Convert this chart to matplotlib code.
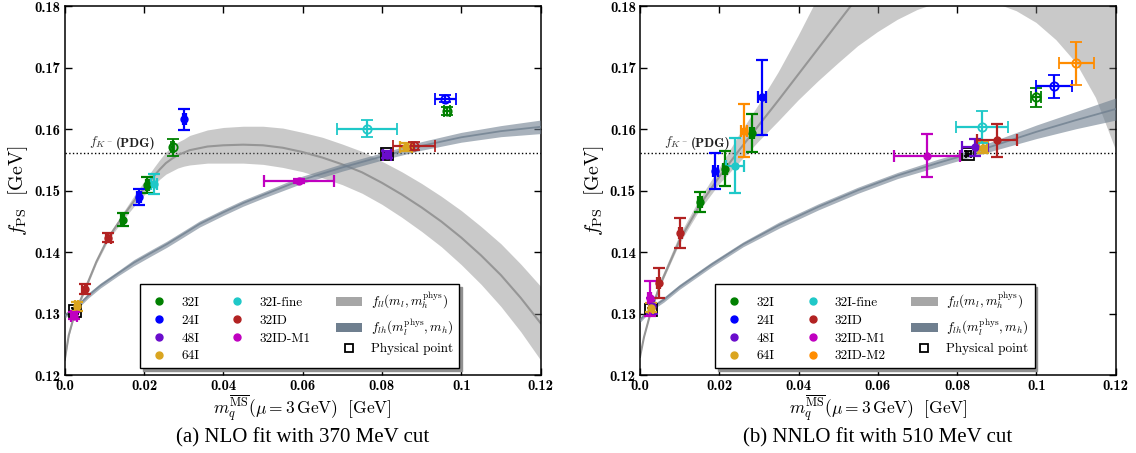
import numpy as np
import matplotlib
matplotlib.use("Agg")
import matplotlib.pyplot as plt
from matplotlib.lines import Line2D
from matplotlib.patches import Patch

plt.rcParams["mathtext.fontset"] = "cm"
plt.rcParams["axes.unicode_minus"] = False
CM = ["cmr10", "DejaVu Serif"]
CMB = ["cmb10", "DejaVu Serif"]

# ensemble colours
ens_names_nlo = ["32I", "24I", "48I", "64I", "32I-fine", "32ID", "32ID-M1"]
ens_names_nnlo = ["32I", "24I", "48I", "64I", "32I-fine", "32ID", "32ID-M1", "32ID-M2"]
ens_colors = {"32I": "#008000", "24I": "#0000ff", "48I": "#6a0dcc", "64I": "#daa520",
              "32I-fine": "#1fc8c8", "32ID": "#b22222", "32ID-M1": "#c000c0",
              "32ID-M2": "#ff8c00"}

# ---- (a) NLO fit: lattice points ----
nlo_ens = ["32I", "32I", "32I", "32I", "24I", "24I", "24I", "48I", "64I", "64I",
           "32I-fine", "32I-fine", "32ID", "32ID", "32ID", "32ID-M1", "32ID-M1"]
nlo_x = [0.0146, 0.0208, 0.0272, 0.0964, 0.0187, 0.0302, 0.0960, 0.0812, 0.0030, 0.0861,
         0.0225, 0.0762, 0.0050, 0.0110, 0.0881, 0.0024, 0.0590]
nlo_xerr = [0.0004, 0.0004, 0.0004, 0.0008, 0.0005, 0.0005, 0.0026, 0.0010, 0.0004, 0.0015,
            0.0007, 0.0076, 0.0006, 0.0007, 0.0053, 0.0007, 0.0088]
nlo_y = [0.1453, 0.1510, 0.1571, 0.1630, 0.1490, 0.1616, 0.1650, 0.1559, 0.1312, 0.1571,
         0.1511, 0.1601, 0.1341, 0.1424, 0.1573, 0.1297, 0.1516]
nlo_yerr = [0.0011, 0.0013, 0.0014, 0.0006, 0.0013, 0.0017, 0.0005, 0.0006, 0.0008, 0.0007,
            0.0016, 0.0014, 0.0008, 0.0008, 0.0007, 0.0006, 0.0004]
nlo_open = [2, 3, 6, 11, 14]          # points drawn with hollow markers
nlo_phys_x = [0.0027, 0.0812]
nlo_phys_y = [0.1305, 0.1560]

# (a) fit bands
nlo_ll_x = [0, 0.001, 0.0025, 0.005, 0.008, 0.011, 0.0145, 0.018, 0.021, 0.0225, 0.024,
            0.0255, 0.027, 0.0285, 0.03, 0.0315, 0.033, 0.036, 0.04, 0.045, 0.05, 0.055,
            0.06, 0.065, 0.07, 0.075, 0.08, 0.085, 0.09, 0.095, 0.1, 0.105, 0.11, 0.115, 0.12]
nlo_ll_y = [0.1225, 0.1265, 0.1300, 0.1338, 0.1385, 0.1424, 0.1457, 0.1488, 0.1512, 0.1524,
            0.1535, 0.1545, 0.1552, 0.1558, 0.1562, 0.1566, 0.1568, 0.1572, 0.1574, 0.1575,
            0.1574, 0.1570, 0.1563, 0.1554, 0.1543, 0.1530, 0.1513, 0.1494, 0.1473, 0.1450,
            0.1424, 0.1395, 0.1363, 0.1326, 0.1285]
nlo_ll_err = [0.0002, 0.0002, 0.0002, 0.0003, 0.0003, 0.0004, 0.0006, 0.0009, 0.0012, 0.0014,
              0.0016, 0.0018, 0.0020, 0.0021, 0.0022, 0.0024, 0.0025, 0.0027, 0.0029, 0.0030,
              0.0031, 0.0032, 0.0032, 0.0033, 0.0033, 0.0034, 0.0035, 0.0037, 0.0039, 0.0041,
              0.0044, 0.0047, 0.0051, 0.0055, 0.0060]
nlo_lh_x = [0, 0.001, 0.003, 0.006, 0.009, 0.0135, 0.0174, 0.0215, 0.0257, 0.03, 0.034, 0.04,
            0.045, 0.05, 0.059, 0.065, 0.07, 0.0812, 0.09, 0.1, 0.11, 0.12]
nlo_lh_y = [0.1297, 0.1302, 0.1311, 0.1330, 0.1346, 0.1366, 0.1383, 0.1398, 0.1413, 0.1430,
            0.1446, 0.1465, 0.1480, 0.1493, 0.1516, 0.1528, 0.1538, 0.1558, 0.1573, 0.1587,
            0.1597, 0.1604]
nlo_lh_err = [0.0004, 0.0004, 0.0004, 0.0004, 0.0004, 0.0004, 0.0005, 0.0005, 0.0005, 0.0005,
              0.0005, 0.0005, 0.0005, 0.0005, 0.0006, 0.0006, 0.0006, 0.0006, 0.0007, 0.0008,
              0.0009, 0.0011]

# ---- (b) NNLO fit: lattice points ----
nnlo_ens = ["32I", "32I", "32I", "32I", "24I", "24I", "24I", "48I", "48I", "64I", "64I",
            "32I-fine", "32I-fine", "32ID", "32ID", "32ID", "32ID-M1", "32ID-M1",
            "32ID-M2", "32ID-M2"]
nnlo_x = [0.0152, 0.0215, 0.0282, 0.0999, 0.0190, 0.0307, 0.1045, 0.0030, 0.0845, 0.0028,
          0.0864, 0.0240, 0.0862, 0.0047, 0.0102, 0.0900, 0.0024, 0.0724, 0.0262, 0.1100]
nnlo_xerr = [0.0005, 0.0005, 0.0005, 0.0012, 0.0006, 0.0010, 0.0045, 0.0004, 0.0032, 0.0005,
             0.0010, 0.0022, 0.0066, 0.0004, 0.0004, 0.0051, 0.0004, 0.0084, 0.0008, 0.0044]
nnlo_y = [0.1482, 0.1536, 0.1594, 0.1652, 0.1532, 0.1652, 0.1670, 0.1312, 0.1571, 0.1310,
          0.1570, 0.1541, 0.1604, 0.1350, 0.1431, 0.1582, 0.1325, 0.1557, 0.1598, 0.1707]
nnlo_yerr = [0.0016, 0.0029, 0.0031, 0.0015, 0.0029, 0.0061, 0.0019, 0.0013, 0.0014, 0.0007,
             0.0009, 0.0045, 0.0026, 0.0024, 0.0024, 0.0027, 0.0029, 0.0035, 0.0043, 0.0035]
nnlo_open = [3, 6, 12, 19]
nnlo_phys_x = [0.0028, 0.0828]
nnlo_phys_y = [0.1306, 0.1560]

# (b) fit bands
nnlo_ll_x = [0, 0.001, 0.0028, 0.005, 0.01, 0.015, 0.02, 0.025, 0.03, 0.035, 0.04, 0.045,
             0.05, 0.055, 0.06, 0.065, 0.07, 0.075, 0.08, 0.085, 0.09, 0.095, 0.1, 0.105,
             0.11, 0.115, 0.12]
nnlo_ll_y = [0.1230, 0.1262, 0.1305, 0.1346, 0.1420, 0.1476, 0.1523, 0.1566, 0.1607, 0.1648,
             0.1690, 0.1732, 0.1774, 0.1816, 0.1855, 0.1895, 0.1930, 0.1960, 0.1990, 0.2010,
             0.2030, 0.2040, 0.2050, 0.2050, 0.2050, 0.2040, 0.2030]
nnlo_ll_lo = [0.1228, 0.1259, 0.1301, 0.1341, 0.1413, 0.1467, 0.1510, 0.1545, 0.1580, 0.1613,
              0.1647, 0.1678, 0.1707, 0.1735, 0.1758, 0.1778, 0.1794, 0.1805, 0.1811, 0.1810,
              0.1804, 0.1792, 0.1773, 0.1745, 0.1708, 0.1651, 0.1567]
nnlo_ll_hi = [0.1232, 0.1265, 0.1309, 0.1351, 0.1427, 0.1485, 0.1536, 0.1590, 0.1640, 0.1693,
              0.1752, 0.1815, 0.1880, 0.1930, 0.1980, 0.2025, 0.2070, 0.2115, 0.2160, 0.2205,
              0.2250, 0.2290, 0.2330, 0.2365, 0.2400, 0.2450, 0.2500]
nnlo_lh_x = [0, 0.001, 0.003, 0.006, 0.01, 0.018, 0.026, 0.035, 0.045, 0.055, 0.065, 0.075,
             0.083, 0.09, 0.1, 0.11, 0.12]
nnlo_lh_y = [0.1290, 0.1297, 0.1310, 0.1323, 0.1344, 0.1380, 0.1413, 0.1444, 0.1474, 0.1501,
             0.1525, 0.1545, 0.1560, 0.1575, 0.1596, 0.1615, 0.1633]
nnlo_lh_err = [0.0004, 0.0004, 0.0004, 0.0004, 0.0004, 0.0004, 0.0004, 0.0005, 0.0005, 0.0005,
               0.0005, 0.0006, 0.0006, 0.0008, 0.0011, 0.0014, 0.0018]

f_K_pdg = 0.1561
xticks = [0.0, 0.02, 0.04, 0.06, 0.08, 0.1, 0.12]
xtick_labels = ["0.0", "0.02", "0.04", "0.06", "0.08", "0.1", "0.12"]
yticks = [0.12, 0.13, 0.14, 0.15, 0.16, 0.17, 0.18]
ytick_labels = ["0.12", "0.13", "0.14", "0.15", "0.16", "0.17", "0.18"]

LL_FILL = "#808080"
LH_FILL = "#708090"


def draw_panel(ax, ens, x, xe, y, ye, hollow, px, py, names, caption):
    ax.axhline(f_K_pdg, color="k", ls=":", lw=1.0, zorder=1)
    ax.text(0.0061, 0.1566, r"$f_{K^-}$", fontsize=10, color="#333333", va="bottom")
    ax.text(0.0128, 0.1566, "(PDG)", fontsize=9.5, family=CMB, color="#222222",
            va="bottom")

    for i, (e, xi, xei, yi, yei) in enumerate(zip(ens, x, xe, y, ye)):
        c = ens_colors[e]
        if i in hollow:
            ax.errorbar(xi, yi, xerr=xei, yerr=yei, fmt="o", ms=6, mfc="none", mec=c,
                        mew=1.3, color=c, elinewidth=1.6, capsize=4.5, capthick=1.6,
                        zorder=5)
        else:
            ax.errorbar(xi, yi, xerr=xei, yerr=yei, fmt="o", ms=5, color=c, mec=c,
                        elinewidth=1.6, capsize=4.5, capthick=1.6, zorder=5)
    ax.errorbar(px, py, xerr=0.0006, yerr=0.0004, fmt="s", ms=8, mfc="none", mec="k",
                mew=1.3, color="k", elinewidth=1.2, capsize=3, zorder=4)

    ax.set_xlim(0, 0.12)
    ax.set_ylim(0.12, 0.18)
    ax.set_xticks(xticks)
    ax.set_xticklabels(xtick_labels, family=CMB, fontsize=10.5)
    ax.set_yticks(yticks)
    ax.set_yticklabels(ytick_labels, family=CMB, fontsize=10.5)
    ax.tick_params(direction="in", top=True, right=True, length=5, width=1, pad=3)
    for s in ax.spines.values():
        s.set_linewidth(1.1)
    ax.set_xlabel(r"$m_q^{\overline{\rm MS}}(\mu=3\,{\rm GeV})\ \ [{\rm GeV}]$",
                  fontsize=12.5, labelpad=0)
    ax.set_ylabel(r"$f_{\rm PS}\ \ [{\rm GeV}]$", fontsize=14.5, labelpad=3)

    handles = [Line2D([], [], ls="none", marker="o", ms=5, color=ens_colors[n]) for n in names]
    labels = list(names)
    handles += [Patch(facecolor="#a6a6a6", edgecolor="none"),
                Patch(facecolor="#6f7f8f", edgecolor="none"),
                Line2D([], [], ls="none", marker="s", ms=6, mfc="none", mec="k", mew=1.3)]
    labels += [r"$f_{ll}(m_l,m_h^{\rm phys})$", r"$f_{lh}(m_l^{\rm phys},m_h)$",
               "Physical point"]
    leg = ax.legend(handles, labels, ncol=3, loc="lower left",
                    bbox_to_anchor=(0.158, 0.019), borderaxespad=0,
                    prop={"family": CM, "size": 9.5}, handlelength=2.0, handletextpad=0.68,
                    columnspacing=1.9, labelspacing=0.42, borderpad=0.45,
                    fancybox=False, shadow={"color": "#909090", "alpha": 1.0},
                    framealpha=1.0)
    leg.get_frame().set_edgecolor("k")
    leg.get_frame().set_linewidth(1.0)
    leg.set_zorder(10)

    box = ax.get_position()
    fig.text(box.x0 + box.width / 2, 0.024, caption, ha="center", va="baseline",
             fontsize=15, family="Liberation Serif")


fig = plt.figure(figsize=(11.36, 4.53), dpi=100)
ax1 = fig.add_axes([0.057, 0.1715, 0.4188, 0.8146])
ax2 = fig.add_axes([0.5634, 0.1715, 0.4188, 0.8146])

# bands (a)
ll_x = np.array(nlo_ll_x); ll_y = np.array(nlo_ll_y); ll_e = np.array(nlo_ll_err)
ax1.fill_between(ll_x, ll_y - ll_e, ll_y + ll_e, color=LL_FILL, alpha=0.42, lw=0, zorder=2)
ax1.plot(ll_x, ll_y, color="#969696", lw=1.5, zorder=2)
lh_x = np.array(nlo_lh_x); lh_y = np.array(nlo_lh_y); lh_e = np.array(nlo_lh_err)
ax1.fill_between(lh_x, lh_y - lh_e, lh_y + lh_e, color=LH_FILL, alpha=0.6, lw=0, zorder=3)
ax1.plot(lh_x, lh_y, color=LH_FILL, lw=1.3, alpha=0.8, zorder=3)

# bands (b)
ax2.fill_between(nnlo_ll_x, nnlo_ll_lo, nnlo_ll_hi, color=LL_FILL, alpha=0.42, lw=0, zorder=2)
ax2.plot(nnlo_ll_x, nnlo_ll_y, color="#969696", lw=1.5, zorder=2)
lh_x = np.array(nnlo_lh_x); lh_y = np.array(nnlo_lh_y); lh_e = np.array(nnlo_lh_err)
ax2.fill_between(lh_x, lh_y - lh_e, lh_y + lh_e, color=LH_FILL, alpha=0.6, lw=0, zorder=3)
ax2.plot(lh_x, lh_y, color=LH_FILL, lw=1.3, alpha=0.8, zorder=3)

draw_panel(ax1, nlo_ens, nlo_x, nlo_xerr, nlo_y, nlo_yerr, nlo_open, nlo_phys_x, nlo_phys_y,
           ens_names_nlo, "(a) NLO fit with 370 MeV cut")
draw_panel(ax2, nnlo_ens, nnlo_x, nnlo_xerr, nnlo_y, nnlo_yerr, nnlo_open, nnlo_phys_x,
           nnlo_phys_y, ens_names_nnlo, "(b) NNLO fit with 510 MeV cut")

fig.savefig("out.png", dpi=100)
